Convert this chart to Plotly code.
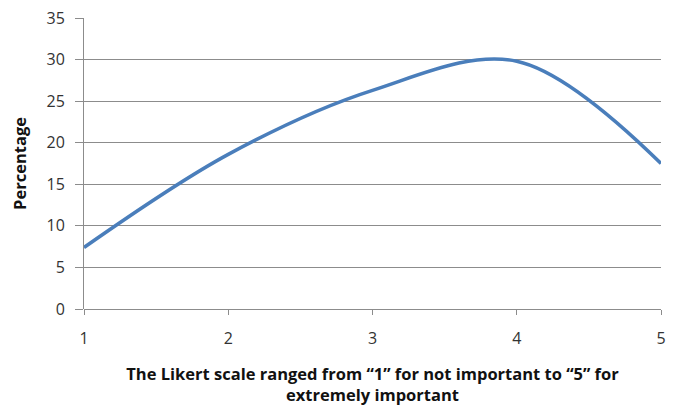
import plotly.graph_objects as go

likert = [1, 2, 3, 4, 5]
percentage = [7.4, 18.6, 26.3, 29.8, 17.5]
y_ticks = [0, 5, 10, 15, 20, 25, 30, 35]
x_title = "The Likert scale ranged from “1” for not important to “5” for<br>extremely important"
y_title = "Percentage"

fig = go.Figure()
fig.add_trace(go.Scatter(
    x=likert, y=percentage, mode="lines",
    line=dict(color="#4A7EBB", width=3.5, shape="spline", smoothing=1.0),
    showlegend=False, hoverinfo="x+y", cliponaxis=False,
))

font_family = "Open Sans, Liberation Sans, Arial, sans-serif"
# page body has an 8px margin, so the figure is sized to fit the window
fig.update_layout(
    width=668, height=398,
    margin=dict(l=76, r=15, t=10, b=97),
    paper_bgcolor="white", plot_bgcolor="white",
    font=dict(family=font_family, size=16, color="#333333"),
    xaxis=dict(
        range=[1, 5], tickvals=likert, ticktext=[str(v) for v in likert],
        showgrid=False, zeroline=False, automargin=False,
        ticks="outside", ticklen=5, tickcolor="#8c8c8c", tickwidth=1,
        showline=False, ticklabelstandoff=10, ticklabeloverflow="allow",
        tickfont=dict(size=16, color="#333333"),
        title=dict(text=x_title, standoff=33,
                   font=dict(size=16.5, color="#111111", family=font_family, weight="bold")),
    ),
    yaxis=dict(
        range=[0, 35], tickvals=y_ticks, automargin=False,
        showgrid=True, gridcolor="#8c8c8c", gridwidth=1,
        zeroline=True, zerolinecolor="#8c8c8c", zerolinewidth=1,
        ticks="outside", ticklen=8, tickcolor="#8c8c8c",
        showline=True, linecolor="#8c8c8c", linewidth=1, ticklabelstandoff=7,
        ticklabeloverflow="allow",
        tickfont=dict(size=16, color="#333333"),
        title=dict(text=y_title, standoff=21,
                   font=dict(size=16.5, color="#111111", family=font_family, weight="bold")),
    ),
)

fig.write_html("out.html")
